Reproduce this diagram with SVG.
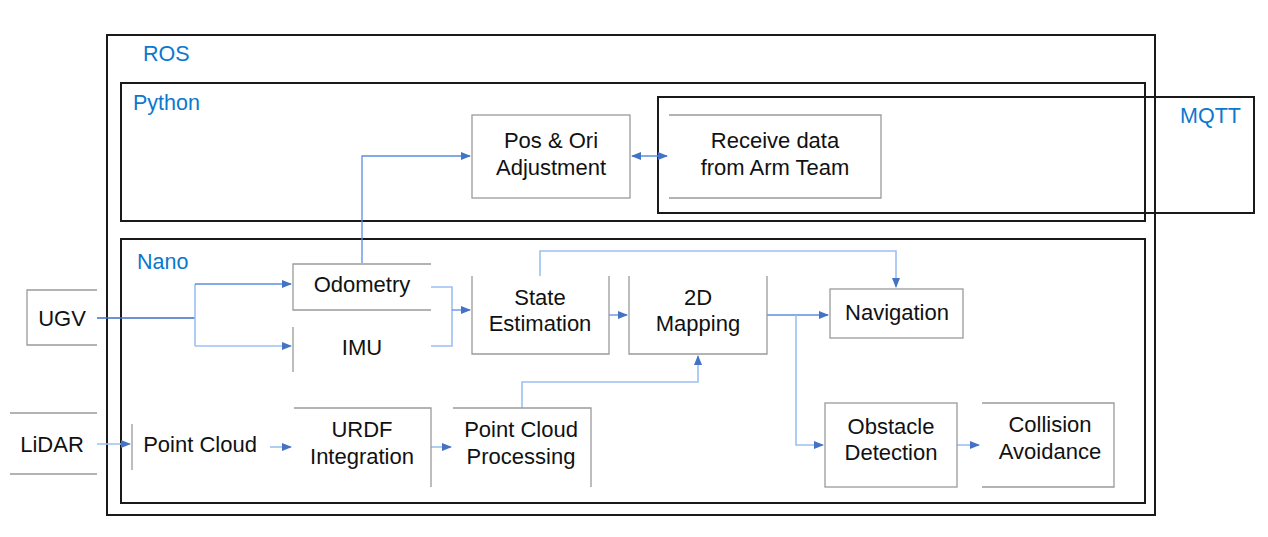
<svg xmlns="http://www.w3.org/2000/svg" width="1268" height="537" viewBox="0 0 1268 537">
<style>
.cont{fill:none;stroke:#1a1a1a;stroke-width:2}
.box{fill:none;stroke:#9a9a9a;stroke-width:1.3}
.t{font-family:"Liberation Sans",Arial,sans-serif;font-size:22px;fill:#111;text-anchor:middle}
.lab{font-family:"Liberation Sans",Arial,sans-serif;font-size:21.5px;fill:#0b78d0}
.c{fill:none;stroke:#5b8ee0;stroke-width:1.3}
.cl{fill:none;stroke:#9cc0f0;stroke-width:1.6}
.cd{fill:none;stroke:#3d6cc4;stroke-width:1.3}
.a{marker-end:url(#ah)}
</style>
<defs>
<marker id="ah" markerUnits="userSpaceOnUse" markerWidth="10" markerHeight="10" viewBox="0 0 10 10" refX="9" refY="5" orient="auto-start-reverse">
<path d="M0,1 L10,5 L0,9 Z" fill="#4472c4"/>
</marker>
</defs>
<rect width="1268" height="537" fill="#fff"/>
<g id="containers">
<rect class="cont" x="107" y="35" width="1048" height="480"/>
<text class="lab" x="143" y="61">ROS</text>
<rect class="cont" x="121" y="83" width="1024" height="138"/>
<text class="lab" x="133" y="110">Python</text>
<rect class="cont" x="121" y="239" width="1024" height="264"/>
<text class="lab" x="137" y="269">Nano</text>
<rect class="cont" x="658" y="97" width="596" height="116"/>
<text class="lab" x="1180" y="123">MQTT</text>
</g>
<g id="connectors">
<path class="c a" d="M362,263 V156 H470"/>
<path class="c" d="M632,156 H667" marker-start="url(#ah)" marker-end="url(#ah)"/>
<path class="cd" d="M97,318 H195"/>
<path class="cl" d="M195,284 V346"/>
<path class="c a" d="M195,284 H291"/>
<path class="cl a" d="M195,346 H291"/>
<path class="cl" d="M431,287 H452 V346 H431"/>
<path class="c a" d="M452,310 H470"/>
<path class="c a" d="M609,315 H627"/>
<path class="cl a" d="M540,276 V251 H896 V287"/>
<path class="cl a" d="M522,408 V382 H698 V356"/>
<path class="c a" d="M767,315 H828"/>
<path class="cl a" d="M796,315 V445 H823"/>
<path class="cl a" d="M957,445 H979"/>
<path class="cl a" d="M97,444 H130"/>
<path class="cl a" d="M270,447 H291"/>
<path class="cl a" d="M431,447 H451"/>
</g>
<g id="pos-ori">
<rect class="box" x="472" y="115" width="158" height="83"/>
<text class="t" x="551" y="148">Pos &amp; Ori</text>
<text class="t" x="551" y="175">Adjustment</text>
</g>
<g id="receive-data">
<path class="box" d="M669,115 H881 V198 H669"/>
<text class="t" x="775" y="148">Receive data</text>
<text class="t" x="775" y="175">from Arm Team</text>
</g>
<g id="ugv">
<path class="box" d="M97,290 H27 V345 H97"/>
<text class="t" x="62" y="326">UGV</text>
</g>
<g id="lidar">
<path class="box" d="M10,413 H97 M10,474 H97"/>
<text class="t" x="52" y="452">LiDAR</text>
</g>
<g id="odometry">
<path class="box" d="M431,264 H293 V310 H431"/>
<text class="t" x="362" y="292">Odometry</text>
</g>
<g id="imu">
<path class="box" d="M293,327 V372"/>
<text class="t" x="362" y="355">IMU</text>
</g>
<g id="point-cloud">
<path class="box" d="M132,424 V470"/>
<text class="t" x="200" y="452">Point Cloud</text>
</g>
<g id="urdf">
<path class="box" d="M294,408 H431 V487"/>
<text class="t" x="362" y="437">URDF</text>
<text class="t" x="362" y="464">Integration</text>
</g>
<g id="pcp">
<path class="box" d="M453,408 H591 V487"/>
<text class="t" x="521" y="437">Point Cloud</text>
<text class="t" x="521" y="464">Processing</text>
</g>
<g id="state-estimation">
<path class="box" d="M472,276 V354 H609 V276"/>
<text class="t" x="540" y="305">State</text>
<text class="t" x="540" y="331">Estimation</text>
</g>
<g id="mapping">
<path class="box" d="M629,276 V354 H767 V276"/>
<text class="t" x="698" y="305">2D</text>
<text class="t" x="698" y="331">Mapping</text>
</g>
<g id="navigation">
<rect class="box" x="830" y="289" width="133" height="49"/>
<text class="t" x="897" y="320">Navigation</text>
</g>
<g id="obstacle">
<rect class="box" x="825" y="403" width="132" height="84"/>
<text class="t" x="891" y="434">Obstacle</text>
<text class="t" x="891" y="460">Detection</text>
</g>
<g id="collision">
<path class="box" d="M982,403 H1114 V487 H982"/>
<text class="t" x="1050" y="432">Collision</text>
<text class="t" x="1050" y="459">Avoidance</text>
</g>
</svg>
